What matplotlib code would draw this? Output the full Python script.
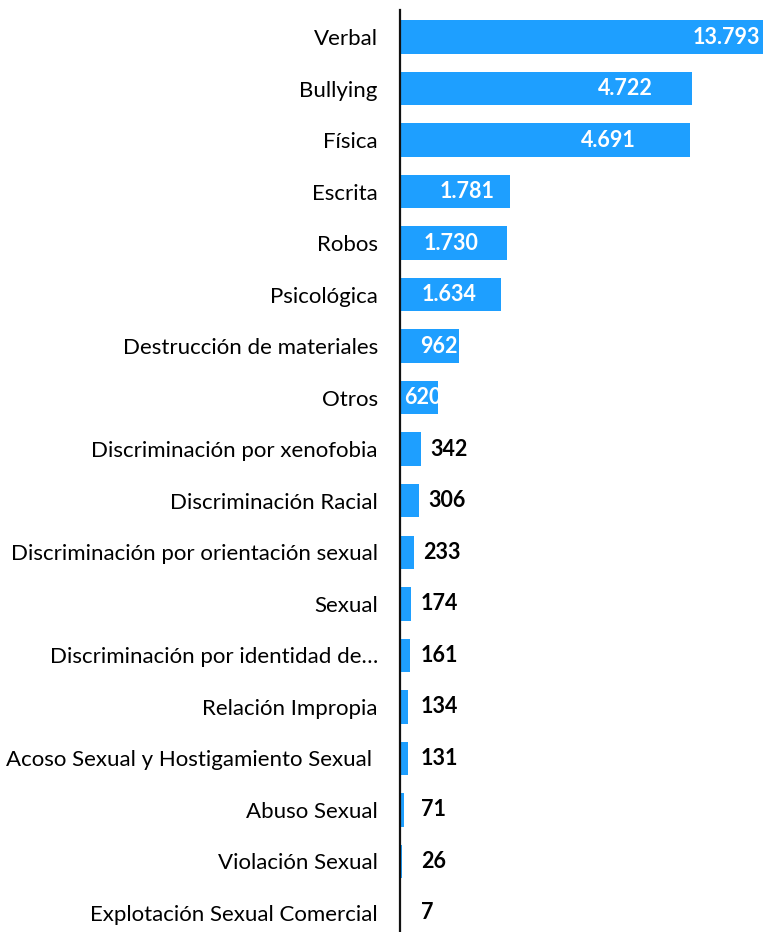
import matplotlib
matplotlib.use("Agg")
import matplotlib.pyplot as plt

# categorías y valores (orden de arriba hacia abajo)
categorias = [
    "Verbal", "Bullying", "Física", "Escrita", "Robos", "Psicológica",
    "Destrucción de materiales", "Otros", "Discriminación por xenofobia",
    "Discriminación Racial", "Discriminación por orientación sexual",
    "Sexual", "Discriminación por identidad de…", "Relación Impropia",
    "Acoso Sexual y Hostigamiento Sexual ", "Abuso Sexual",
    "Violación Sexual", "Explotación Sexual Comercial",
]
valores = [13793, 4722, 4691, 1781, 1730, 1634, 962, 620, 342, 306,
           233, 174, 161, 134, 131, 71, 26, 7]
etiquetas = ["13.793", "4.722", "4.691", "1.781", "1.730", "1.634", "962",
             "620", "342", "306", "233", "174", "161", "134", "131", "71",
             "26", "7"]
# posición (centro) de las etiquetas blancas dentro de la barra
pos_dentro = [5290, 3640, 3380, 1085, 825, 790, 630, 370]

color = "#1E9FFF"
xmax = 5875

fig = plt.figure(figsize=(7.63, 9.32), dpi=100)
ax = fig.add_axes([0.5243, 0.0, 0.4757, 0.989])
plt.rcParams["font.family"] = "Lato"

y = list(range(len(categorias)))
ax.barh(y, valores, height=0.65, color=color)
ax.set_xlim(0, xmax)
ax.set_ylim(17.37, -0.52)

ax.set_yticks(y)
ax.set_yticklabels(categorias, fontsize=16, family="Lato")
ax.tick_params(axis="y", length=0, pad=16)
ax.set_xticks([])
for s in ["top", "right", "bottom"]:
    ax.spines[s].set_visible(False)
ax.spines["left"].set_linewidth(1.6)
ax.spines["left"].set_color("#111111")

px = xmax / (763 - 400)
for i, v in enumerate(valores):
    if i < len(pos_dentro):
        t = ax.text(pos_dentro[i], i, etiquetas[i], ha="center", va="center",
                    color="white", fontsize=15.5, fontweight="bold", family="Lato")
        # recortar el texto al rectángulo de la barra
        t.set_clip_path(ax.patches[i])
    else:
        x = max(v, 12 * px) + 9 * px
        ax.text(x, i, etiquetas[i], ha="left", va="center", color="black",
                fontsize=15.5, fontweight="bold", family="Lato")

fig.savefig("out.png", dpi=100)
